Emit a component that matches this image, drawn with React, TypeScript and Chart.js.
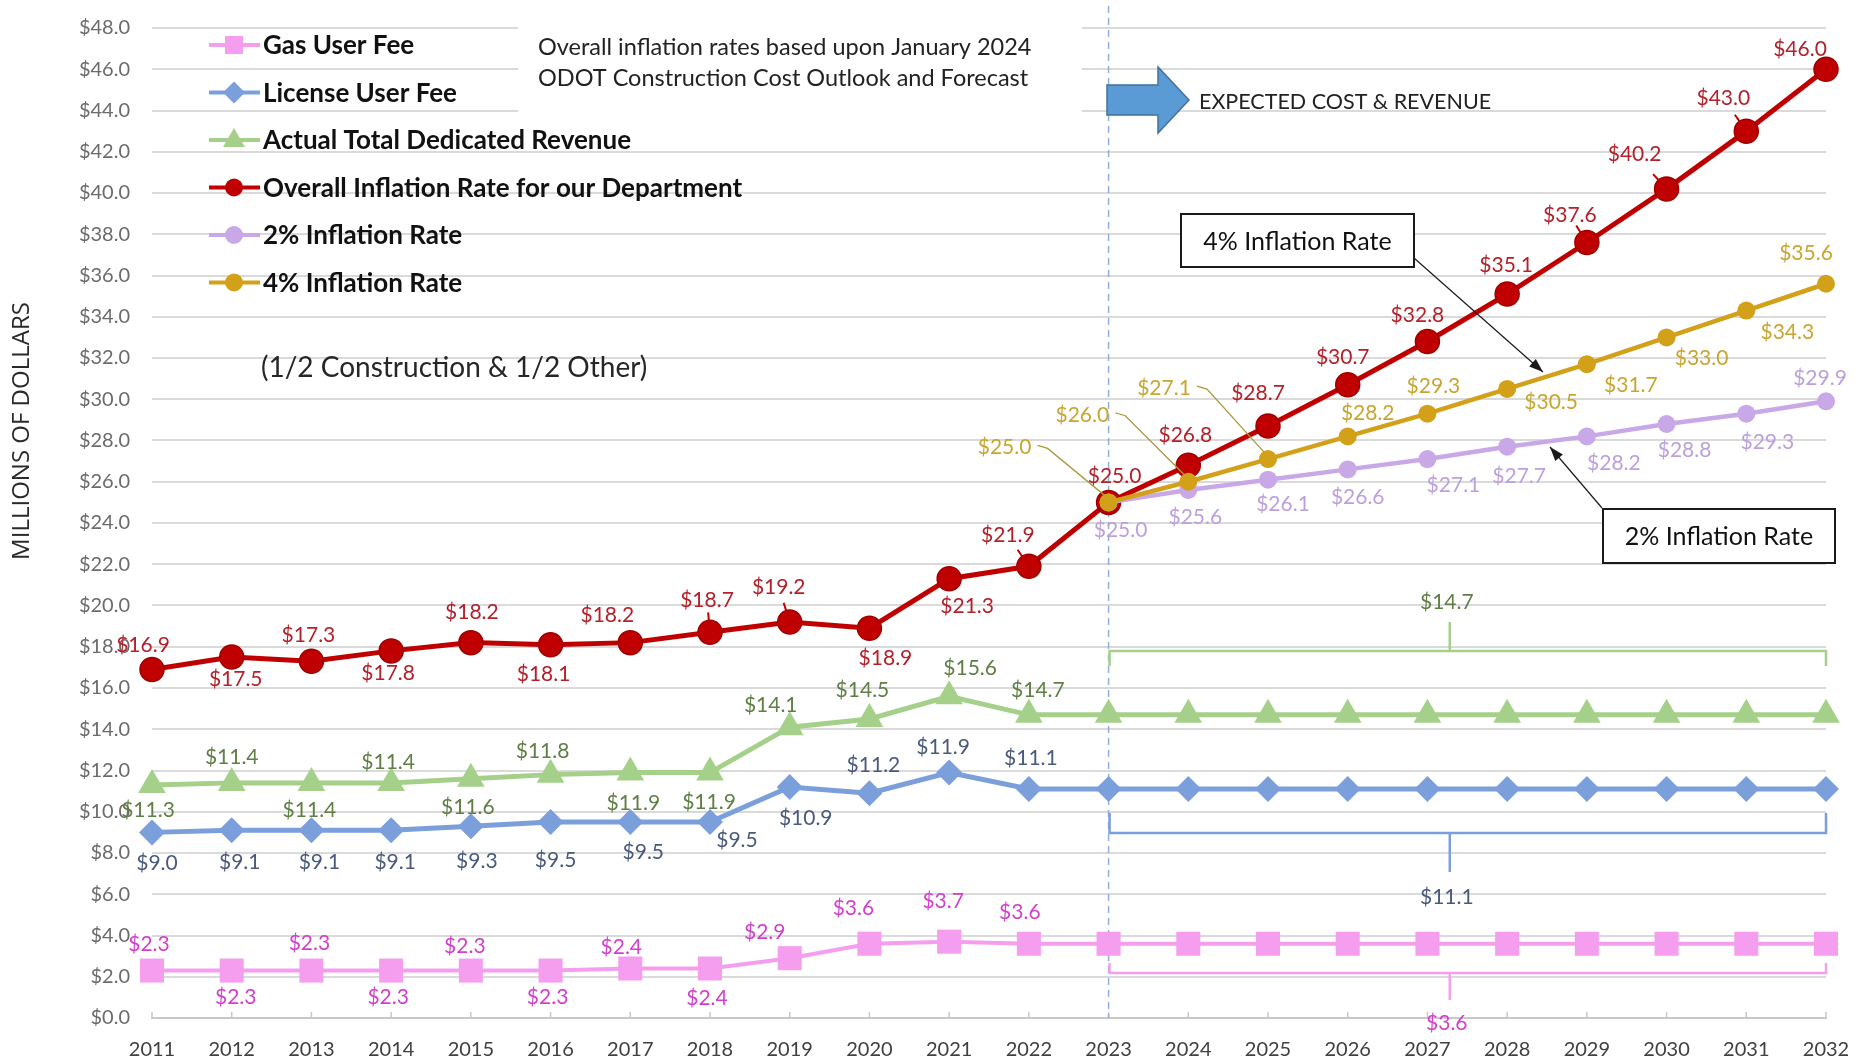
import React, { useEffect, useRef } from 'react';
import { Chart, registerables } from 'chart.js';

Chart.register(...registerables);

// ---------------- DATA ----------------
const years = ['2011', '2012', '2013', '2014', '2015', '2016', '2017', '2018', '2019', '2020', '2021',
  '2022', '2023', '2024', '2025', '2026', '2027', '2028', '2029', '2030', '2031', '2032'];

const gasUserFee = [2.3, 2.3, 2.3, 2.3, 2.3, 2.3, 2.4, 2.4, 2.9, 3.6, 3.7, 3.6,
  3.6, 3.6, 3.6, 3.6, 3.6, 3.6, 3.6, 3.6, 3.6, 3.6];
const licenseUserFee = [9.0, 9.1, 9.1, 9.1, 9.3, 9.5, 9.5, 9.5, 11.2, 10.9, 11.9, 11.1,
  11.1, 11.1, 11.1, 11.1, 11.1, 11.1, 11.1, 11.1, 11.1, 11.1];
const totalDedicatedRevenue = [11.3, 11.4, 11.4, 11.4, 11.6, 11.8, 11.9, 11.9, 14.1, 14.5, 15.6, 14.7,
  14.7, 14.7, 14.7, 14.7, 14.7, 14.7, 14.7, 14.7, 14.7, 14.7];
const overallInflation = [16.9, 17.5, 17.3, 17.8, 18.2, 18.1, 18.2, 18.7, 19.2, 18.9, 21.3, 21.9,
  25.0, 26.8, 28.7, 30.7, 32.8, 35.1, 37.6, 40.2, 43.0, 46.0];
const inflation2 = [null, null, null, null, null, null, null, null, null, null, null, null,
  25.0, 25.6, 26.1, 26.6, 27.1, 27.7, 28.2, 28.8, 29.3, 29.9];
const inflation4 = [null, null, null, null, null, null, null, null, null, null, null, null,
  25.0, 26.0, 27.1, 28.2, 29.3, 30.5, 31.7, 33.0, 34.3, 35.6];

// label text overrides (as printed on the original chart)
const licenseLabelText: Record<number, string> = { 8: '$10.9', 9: '$11.2' };

// forecast brace values
const forecastStartIndex = 12;
const forecastEndIndex = 21;
const braceRevenue = '$14.7';
const braceLicense = '$11.1';
const braceGas = '$3.6';

const Y_MIN = 0;
const Y_MAX = 48;
const Y_STEP = 2;

// ---------------- STYLE ----------------
const C = {
  gas: '#f59ef0', gasLbl: '#d23fcc',
  lic: '#7b9fdb', licLbl: '#4a5a7c',
  rev: '#a5d08a', revLbl: '#5f7f45',
  red: '#c00000', redLbl: '#b3212a',
  p2: '#c8a8e6', p2Lbl: '#bca0de',
  p4: '#d3a01a', p4Lbl: '#c9a530',
};

type Off = [number, number] | null;
const gasOff: Off[] = [[-3, -26], [4, 27], [-2, -27], [-3, 27], [-6, -24], [-3, 27], [-9, -21], [-3, 30], [-25, -26], [-16, -36], [-6, -40], [-9, -32]];
const licOff: Off[] = [[5, 31], [8, 32], [8, 32], [4, 32], [6, 35], [5, 38], [13, 30], [27, 18], [16, 31], [4, -28], [-6, -25], [2, -31]];
const revOff: Off[] = [[-4, 25], [0, -26], [-2, 27], [-3, -21], [-3, 28], [-8, -23], [3, 31], [-1, 30], [-19, -22], [-7, -29], [21, -28], [9, -25]];
const redOff: Off[] = [[-9, -24], [4, 22], [-3, -26], [-3, 22], [1, -30], [-7, 30], [-23, -27], [-3, -32], [-11, -35], [16, 30], [18, 28], [-21, -31],
  [6, -26], [-3, -30], [-10, -33], [-5, -28], [-10, -26], [-1, -29], [-17, -27], [-32, -35], [-23, -33], [-26, -20]];
const redLeader = [7, 8, 11, 18, 19, 20];
const p2Off: Off[] = [null, null, null, null, null, null, null, null, null, null, null, null,
  [12, 28], [7, 27], [15, 25], [10, 28], [26, 26], [12, 30], [27, 27], [18, 26], [21, 29], [-6, -23]];
const p4Off: Off[] = [null, null, null, null, null, null, null, null, null, null, null, null,
  [-104, -55], [-106, -67], [-104, -71], [20, -23], [6, -27], [44, 13], [44, 21], [35, 21], [41, 22], [-20, -31]];
const p4Leader = [12, 13, 14];

const FONT = 'Lato, "Open Sans", sans-serif';
const LBL_FONT = '21px ' + FONT;

function fmt(v: number) { return '$' + v.toFixed(1); }

const overlayPlugin = {
  id: 'overlay',
  beforeDatasetsDraw(chart: any) {
    const ctx = chart.ctx;
    const x = chart.scales.x;
    const y = chart.scales.y;
    const area = chart.chartArea;
    ctx.save();
    // white box behind the note text (hides grid lines)
    ctx.fillStyle = '#ffffff';
    ctx.fillRect(518, 14, 564, 108);
    // tick marks on x axis
    ctx.strokeStyle = '#c8c8c8';
    ctx.lineWidth = 1.5;
    for (let i = 0; i < years.length; i++) {
      const px = x.getPixelForValue(i);
      ctx.beginPath(); ctx.moveTo(px, area.bottom); ctx.lineTo(px, area.bottom - 6); ctx.stroke();
    }
    // dashed vertical separator
    const sx = x.getPixelForValue(forecastStartIndex);
    ctx.strokeStyle = '#8fb0d8';
    ctx.lineWidth = 1.5;
    ctx.setLineDash([7, 5]);
    ctx.beginPath(); ctx.moveTo(sx, 6); ctx.lineTo(sx, area.bottom); ctx.stroke();
    ctx.setLineDash([]);

    // braces
    const x0 = x.getPixelForValue(forecastStartIndex) + 1;
    const x1 = x.getPixelForValue(forecastEndIndex);
    const xm = (x0 + x1) / 2 - 18;
    const brace = (yy: number, endDy: number, midDy: number, color: string, label: string, lblColor: string, lblDy: number) => {
      ctx.strokeStyle = color;
      ctx.lineWidth = 2.5;
      ctx.beginPath();
      ctx.moveTo(x0, yy + endDy); ctx.lineTo(x0, yy); ctx.lineTo(x1, yy); ctx.lineTo(x1, yy + endDy);
      ctx.moveTo(xm, yy); ctx.lineTo(xm, yy + midDy);
      ctx.stroke();
      ctx.fillStyle = lblColor;
      ctx.font = LBL_FONT;
      ctx.textAlign = 'center';
      ctx.textBaseline = 'middle';
      ctx.fillText(label, xm - 3, yy + lblDy);
    };
    brace(y.getPixelForValue(17.8), 15, -29, C.rev, braceRevenue, C.revLbl, -49);
    brace(y.getPixelForValue(8.97), -20, 39, C.lic, braceLicense, C.licLbl, 64);
    brace(y.getPixelForValue(2.18), -10, 27, C.gas, braceGas, C.gasLbl, 50);
    ctx.restore();
  },
  afterDatasetsDraw(chart: any) {
    const ctx = chart.ctx;
    const x = chart.scales.x;
    const y = chart.scales.y;
    ctx.save();
    ctx.textAlign = 'center';
    ctx.textBaseline = 'middle';
    ctx.font = LBL_FONT;

    const drawSeries = (vals: (number | null)[], offs: Off[], color: string, override?: Record<number, string>) => {
      ctx.fillStyle = color;
      for (let i = 0; i < offs.length; i++) {
        const o = offs[i];
        const v = vals[i];
        if (!o || v == null) continue;
        const txt = override && override[i] ? override[i] : fmt(v);
        ctx.fillText(txt, x.getPixelForValue(i) + o[0], y.getPixelForValue(v) + o[1]);
      }
    };
    drawSeries(gasUserFee, gasOff, C.gasLbl);
    drawSeries(licenseUserFee, licOff, C.licLbl, licenseLabelText);
    drawSeries(totalDedicatedRevenue, revOff, C.revLbl);
    drawSeries(overallInflation, redOff, C.redLbl);
    drawSeries(inflation2, p2Off, C.p2Lbl);
    drawSeries(inflation4, p4Off, C.p4Lbl);

    // short leader ticks for some red labels
    ctx.strokeStyle = C.red;
    ctx.lineWidth = 2;
    for (const i of redLeader) {
      const o = redOff[i]!;
      const px = x.getPixelForValue(i);
      const py = y.getPixelForValue(overallInflation[i]);
      const d = Math.hypot(o[0], o[1]);
      const ux = o[0] / d, uy = o[1] / d;
      ctx.beginPath();
      ctx.moveTo(px + ux * 10, py + uy * 10);
      ctx.lineTo(px + ux * 20, py + uy * 20);
      ctx.stroke();
    }

    // leader lines for 4% labels
    ctx.strokeStyle = '#a89a3c';
    ctx.lineWidth = 1.3;
    for (const i of p4Leader) {
      const o = p4Off[i]!;
      const v = inflation4[i] as number;
      const px = x.getPixelForValue(i);
      const py = y.getPixelForValue(v);
      const lx = px + o[0] + 33;
      const ly = py + o[1] - 2;
      ctx.beginPath();
      ctx.moveTo(lx, ly);
      ctx.lineTo(lx + 10, ly + 3);
      ctx.lineTo(px - 4, py - 7);
      ctx.stroke();
    }

    // legend
    const legend = [
      { t: 'Gas User Fee', c: C.gas, s: 'rect' },
      { t: 'License User Fee', c: C.lic, s: 'diamond' },
      { t: 'Actual Total Dedicated Revenue', c: C.rev, s: 'tri' },
      { t: 'Overall Inflation Rate for our Department', c: C.red, s: 'circle' },
      { t: '2% Inflation Rate', c: C.p2, s: 'circle' },
      { t: '4% Inflation Rate', c: C.p4, s: 'circle' },
    ];
    const ly0 = 45;
    const ldy = 47.5;
    legend.forEach((it, k) => {
      const yy = ly0 + k * ldy;
      ctx.strokeStyle = it.c;
      ctx.lineWidth = 4;
      ctx.beginPath(); ctx.moveTo(209, yy); ctx.lineTo(260, yy); ctx.stroke();
      ctx.fillStyle = it.c;
      const cx = 234;
      ctx.beginPath();
      if (it.s === 'rect') ctx.rect(cx - 9, yy - 9, 18, 18);
      else if (it.s === 'diamond') { ctx.moveTo(cx - 11, yy); ctx.lineTo(cx, yy - 11); ctx.lineTo(cx + 11, yy); ctx.lineTo(cx, yy + 11); ctx.closePath(); }
      else if (it.s === 'tri') { ctx.moveTo(cx, yy - 12); ctx.lineTo(cx + 11, yy + 7); ctx.lineTo(cx - 11, yy + 7); ctx.closePath(); }
      else ctx.arc(cx, yy, 9, 0, Math.PI * 2);
      ctx.fill();
      ctx.fillStyle = '#111111';
      ctx.font = 'bold 26px ' + FONT;
      ctx.textAlign = 'left';
      ctx.fillText(it.t, 263, yy + 1);
    });

    // notes
    ctx.fillStyle = '#222222';
    ctx.font = '23.5px ' + FONT;
    ctx.textAlign = 'left';
    ctx.fillText('Overall inflation rates based upon January 2024', 538, 47);
    ctx.fillText('ODOT Construction Cost Outlook and Forecast', 538, 78);
    ctx.font = '28px ' + FONT;
    ctx.fillStyle = '#262626';
    ctx.fillText('(1/2 Construction & 1/2 Other)', 261, 368);

    // expected cost arrow
    ctx.fillStyle = '#5b9bd5';
    ctx.strokeStyle = '#41719c';
    ctx.lineWidth = 1.5;
    ctx.beginPath();
    ctx.moveTo(1107, 85); ctx.lineTo(1158, 85); ctx.lineTo(1158, 67); ctx.lineTo(1189, 100);
    ctx.lineTo(1158, 133); ctx.lineTo(1158, 115); ctx.lineTo(1107, 115); ctx.closePath();
    ctx.fill(); ctx.stroke();
    ctx.fillStyle = '#222222';
    ctx.font = '21.5px ' + FONT;
    ctx.fillText('EXPECTED COST & REVENUE', 1199, 102);

    // callouts
    const callout = (bx: number, by: number, bw: number, bh: number, text: string, ax0: number, ay0: number, ax1: number, ay1: number) => {
      ctx.strokeStyle = '#1a1a1a';
      ctx.fillStyle = '#1a1a1a';
      ctx.lineWidth = 1.2;
      ctx.beginPath(); ctx.moveTo(ax0, ay0); ctx.lineTo(ax1, ay1); ctx.stroke();
      const ang = Math.atan2(ay1 - ay0, ax1 - ax0);
      const hl = 14, hw = 5;
      ctx.beginPath();
      ctx.moveTo(ax1, ay1);
      ctx.lineTo(ax1 - hl * Math.cos(ang) + hw * Math.sin(ang), ay1 - hl * Math.sin(ang) - hw * Math.cos(ang));
      ctx.lineTo(ax1 - hl * Math.cos(ang) - hw * Math.sin(ang), ay1 - hl * Math.sin(ang) + hw * Math.cos(ang));
      ctx.closePath(); ctx.fill();
      ctx.fillStyle = '#ffffff';
      ctx.fillRect(bx, by, bw, bh);
      ctx.lineWidth = 2;
      ctx.strokeRect(bx, by, bw, bh);
      ctx.fillStyle = '#111111';
      ctx.font = '25px ' + FONT;
      ctx.textAlign = 'center';
      ctx.fillText(text, bx + bw / 2, by + bh / 2 + 1);
      ctx.textAlign = 'left';
    };
    callout(1181, 214, 233, 53, '4% Inflation Rate', 1414, 258, 1543, 372);
    callout(1603, 509, 232, 54, '2% Inflation Rate', 1602, 508, 1550, 447);

    // y axis title
    ctx.save();
    ctx.translate(22, 431);
    ctx.rotate(-Math.PI / 2);
    ctx.fillStyle = '#2a2a2a';
    ctx.font = '24px "Open Sans", sans-serif';
    ctx.textAlign = 'center';
    ctx.textBaseline = 'middle';
    ctx.fillText('MILLIONS OF DOLLARS', 0, 0);
    ctx.restore();

    ctx.restore();
  },
};

export default function App() {
  const ref = useRef<HTMLCanvasElement>(null);
  useEffect(() => {
    if (!ref.current) return;
    const common = { tension: 0, clip: false as any, spanGaps: false };
    const chart = new Chart(ref.current, {
      type: 'line',
      data: {
        labels: years,
        datasets: [
          { ...common, label: 'Gas User Fee', data: gasUserFee, borderColor: C.gas, backgroundColor: C.gas, borderWidth: 4,
            pointStyle: 'rect', pointRadius: 17, pointBorderWidth: 0, order: 6 },
          { ...common, label: 'License User Fee', data: licenseUserFee, borderColor: C.lic, backgroundColor: C.lic, borderWidth: 5,
            pointStyle: 'rectRot', pointRadius: 13, pointBorderWidth: 0, order: 5 },
          { ...common, label: 'Actual Total Dedicated Revenue', data: totalDedicatedRevenue, borderColor: C.rev, backgroundColor: C.rev, borderWidth: 5,
            pointStyle: 'triangle', pointRadius: 16, pointBorderWidth: 0, order: 4 },
          { ...common, label: 'Overall Inflation Rate for our Department', data: overallInflation, borderColor: C.red, backgroundColor: C.red, borderWidth: 5,
            pointStyle: 'circle', pointRadius: 12, pointBorderColor: '#9e0000', pointBorderWidth: 1.5, order: 3 },
          { ...common, label: '2% Inflation Rate', data: inflation2 as any, borderColor: C.p2, backgroundColor: C.p2, borderWidth: 4.5,
            pointStyle: 'circle', pointRadius: 9, pointBorderWidth: 0, order: 2 },
          { ...common, label: '4% Inflation Rate', data: inflation4 as any, borderColor: C.p4, backgroundColor: C.p4, borderWidth: 4.5,
            pointStyle: 'circle', pointRadius: 9, pointBorderWidth: 0, order: 1 },
        ],
      },
      options: {
        responsive: false,
        animation: false,
        devicePixelRatio: 1,
        layout: { padding: { top: 28, right: 38, left: 0, bottom: 0 } },
        plugins: { legend: { display: false }, tooltip: { enabled: false }, title: { display: false } },
        scales: {
          x: {
            type: 'category',
            offset: false,
            grid: { display: false },
            border: { display: true, color: '#c8c8c8', width: 2 },
            ticks: { color: '#404040', font: { family: FONT, size: 20 }, padding: 12, maxRotation: 0, autoSkip: false },
            afterFit: (s: any) => { s.height = 42; s.paddingLeft = 0; s.paddingRight = 0; },
          },
          y: {
            min: Y_MIN,
            max: Y_MAX,
            ticks: {
              stepSize: Y_STEP,
              color: '#6b6b6b',
              font: { family: FONT, size: 20 },
              padding: 22,
              callback: (v: any) => '$' + Number(v).toFixed(1),
            },
            grid: { color: '#dadada', lineWidth: 2, drawTicks: false },
            border: { display: false },
            afterFit: (s: any) => { s.width = 152; s.paddingTop = 0; s.paddingBottom = 0; },
          },
        },
      },
      plugins: [overlayPlugin],
    });
    return () => chart.destroy();
  }, []);
  return (
    <div style={{ position: 'fixed', left: 0, top: 0, width: 1864, height: 1060, background: '#ffffff' }}>
      <canvas ref={ref} width={1864} height={1060} />
    </div>
  );
}
